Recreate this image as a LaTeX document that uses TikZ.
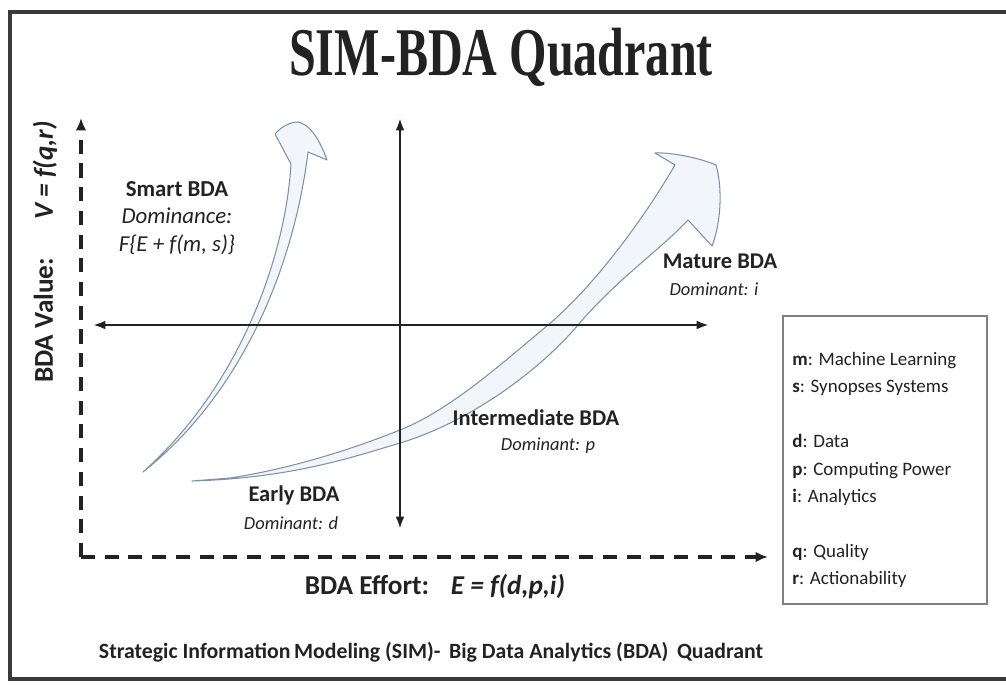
\documentclass[tikz,border=0pt]{standalone}
\usepackage{fontspec}
\setmainfont{Carlito}
\newfontfamily\titlefont{Liberation Serif}
\usetikzlibrary{arrows.meta}

\definecolor{inkgray}{HTML}{222222}
\definecolor{framegray}{HTML}{3A3A3A}
\definecolor{flowedge}{HTML}{7E92A6}
\definecolor{flowfill}{HTML}{F2F6FB}

\tikzset{
  dashaxis/.style={line width=2.2pt,inkgray,dash pattern=on 8pt off 5.5pt,-{Latex[length=7pt,width=6pt]}},
  solidaxis/.style={line width=1.5pt,inkgray,{Latex[length=7pt,width=5pt]}-{Latex[length=7pt,width=5pt]}},
  growth/.style={draw=flowedge,fill=flowfill,line width=0.6pt,line join=round},
  stage/.style={font=\fontsize{12.8}{15}\selectfont\bfseries,text=inkgray,inner sep=1pt},
  dominant/.style={font=\fontsize{10.5}{12}\selectfont\itshape,text=inkgray,inner sep=1pt},
  axislabel/.style={font=\fontsize{15.5}{18}\selectfont\bfseries,text=inkgray,inner sep=1pt},
}

\begin{document}
\begin{tikzpicture}[x=0.02cm,y=-0.02cm]
		\useasboundingbox (0,0) rectangle (1006,684);
		\draw[line width=2.2pt,framegray] (10,12) rectangle (1016,679);

		\coordinate (O) at (81,557);
		\coordinate (VT) at (81,118);
		\coordinate (ER) at (768,557);
		\coordinate (C) at (400,325);
		\coordinate (CU) at (400,118);
		\coordinate (CD) at (400,529);
		\coordinate (CL) at (93,325);
		\coordinate (CR) at (709,325);

		\node[font=\titlefont\bfseries\fontsize{37}{40}\selectfont,xscale=0.74,yscale=1.05,text=inkgray] (title) at (501,57) {SIM-BDA Quadrant};

		\draw[growth] (143,472) .. controls (252,385) and (296,250) .. (308,152)
			-- (327,160) .. controls (318,135) and (308,124) .. (298,122)
			.. controls (290,122) and (281,127) .. (275,134)
			-- (291,164) .. controls (286,250) and (244,382) .. (143,472) -- cycle;
		\draw[growth] (192,481) .. controls (290,478) and (350,458) .. (400,443)
			.. controls (470,422) and (540,370) .. (578,325)
			.. controls (616,280) and (660,250) .. (688,220)
			-- (712,246) .. controls (722,220) and (722,185) .. (716,165)
			.. controls (700,158) and (670,152) .. (655,153)
			-- (675,165) .. controls (640,225) and (590,290) .. (548,325)
			.. controls (500,365) and (450,410) .. (400,430)
			.. controls (330,458) and (270,472) .. (230,478) -- cycle;

		\draw[solidaxis] (CL) -- (CR);
		\draw[solidaxis] (CU) -- (CD);
		\draw[dashaxis] (O) -- (VT);
		\draw[dashaxis] (O) -- (ER);

		\node[axislabel,rotate=90] (vlabel) at (45,252) {BDA Value:\hspace{1.4em}\textit{V = f(q,r)}};
		\node[axislabel] (elabel) at (435,587) {BDA Effort:\hspace{0.8em}\textit{E = f(d,p,i)}};

		\node[align=center,text=inkgray,font=\fontsize{13}{15.6}\selectfont,inner sep=1pt] (smart) at (177,218)
			{\textbf{Smart BDA}\\ \textit{Dominance:}\\ \textit{F\{E + f(m, s)\}}};
		\node[stage] (mature) at (720,261) {Mature BDA};
		\node[dominant] (maturedom) at (714,289) {Dominant: i};
		\node[stage] (inter) at (536,418) {Intermediate BDA};
		\node[dominant] (interdom) at (548,446) {Dominant: p};
		\node[stage] (early) at (294,495) {Early BDA};
		\node[dominant] (earlydom) at (291,523) {Dominant: d};

		\draw[line width=0.8pt,gray] (783,316) rectangle (987,604);
		\node[anchor=north west,align=left,text=inkgray,font=\fontsize{10.8}{15.6}\selectfont,inner sep=0pt] (keys) at (792,352)
			{\textbf{m}: Machine Learning\\ \textbf{s}: Synopses Systems\\[15.6pt]
			 \textbf{d}: Data\\ \textbf{p}: Computing Power\\ \textbf{i}: Analytics\\[15.6pt]
			 \textbf{q}: Quality\\ \textbf{r}: Actionability};

		\node[font=\fontsize{12.4}{14}\selectfont\bfseries,text=inkgray] (caption) at (431,652)
			{Strategic Information\,Modeling (SIM)-\, Big Data Analytics (BDA)\, Quadrant};
	    \end{tikzpicture}
\end{document}
